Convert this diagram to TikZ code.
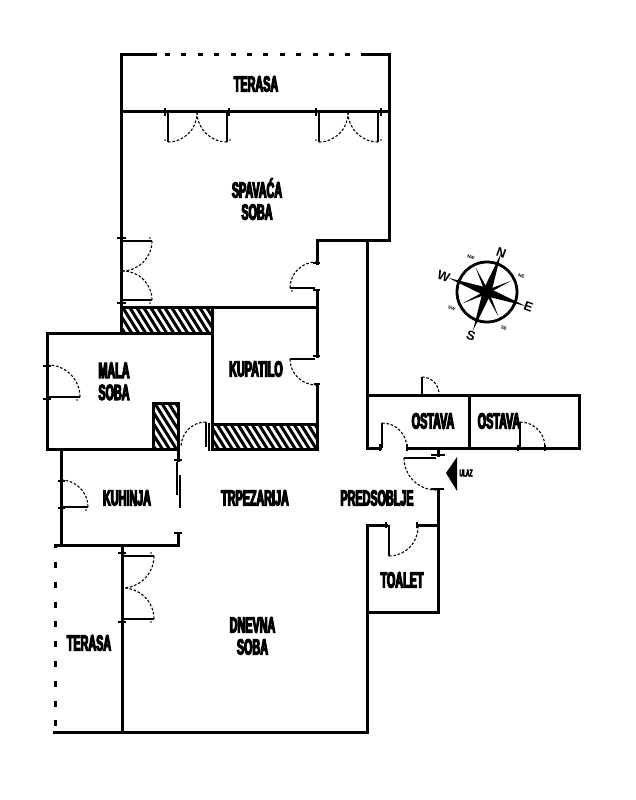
\documentclass[tikz,border=0pt]{standalone}
\usepackage{fontspec}
\newfontfamily\planfont[FakeStretch=0.49,BoldFeatures={FakeBold=5}]{Liberation Sans}
\newfontfamily\roosefont{Liberation Sans}

\def\terrace{(155,55) -- (121.5,55) -- (121.5,111.5) (362,55) -- (389,55) -- (389,240)}
\def\bedroom{(121.5,111.5) -- (389,111.5) (121.5,111.5) -- (121.5,333) (389,240) -- (317,240) -- (317,263) (317,290) -- (317,356) (317,384) -- (317,449) (121.5,307) -- (317,307)}
\def\smallroom{(212,307) -- (212,449) -- (317,449) (212,424) -- (317,424) (121.5,333) -- (47,333) -- (47,449) -- (178,449) -- (178,460) (212,333) -- (121.5,333) (153,449) -- (153,403) -- (178,403) -- (178,449)}
\def\kitchen{(61,449) -- (61,545) (55,545) -- (178,545) -- (178,533)}
\def\livingroom{(122,545) -- (122,732) (54,732) -- (367,732) -- (367,525) -- (386,525) (417,525) -- (438,525) (438,489) -- (438,612) -- (367,612)}
\def\storage{(367,240) -- (367,448) -- (380,448) (407,448) -- (579,448) -- (579,395.5) -- (367,395.5) (469,395.5) -- (469,448) (438,448) -- (438,455)}

\def\hatchbox#1#2#3#4{%
  \begin{scope}
    \clip (#1,#2) rectangle (#3,#4);
    \foreach \k in {-50,-43,...,320}
      \draw[line width=3] (\k,300) -- (\k+94,450);
  \end{scope}
  \draw[wall] (#1,#2) rectangle (#3,#4);}

\tikzset{
  wall/.style={line width=3, line cap=rect, line join=miter},
  leaf/.style={line width=1.2},
  swing/.style={line width=1.1, dash pattern=on 2.6 off 1.8},
  tick/.style={line width=1.3},
  room/.style={font=\planfont\bfseries\fontsize{22}{22}\selectfont, align=center, inner sep=0},
  bigletter/.style={font=\roosefont\bfseries\fontsize{13}{13}\selectfont, inner sep=0, rotate=-20},
  smallletter/.style={font=\roosefont\bfseries\fontsize{4.5}{4.5}\selectfont, inner sep=0, rotate=-20},
  openwall/.style={line width=3}
}

\begin{document}
\begin{tikzpicture}[x=1pt,y=-1pt]
  \useasboundingbox (0,0) rectangle (636,800);
  \fill[white] (0,0) rectangle (636,800);

  % hatched blocks
  \hatchbox{121.5}{307}{212}{333}
  \hatchbox{153}{403}{178}{449}
  \hatchbox{212}{424}{317}{449}

  % walls
  \draw[wall] \terrace;
  \draw[wall] \bedroom;
  \draw[wall] \smallroom;
  \draw[wall] \kitchen;
  \draw[wall] \livingroom;
  \draw[wall] \storage;

  % open sides of the terraces
  \foreach \x in {165,181.4,...,350}
    \draw[openwall] (\x,55) -- ++(5,0);
  \foreach \y in {562,581.8,...,725}
    \draw[openwall] (55,\y) -- ++(0,6);
  \draw[openwall] (55,545) -- (55,548);

  % door leaves
  \foreach \xa/\ya/\xb/\yb in {168/112/168/142, 227/112/227/142, 319/112/319/142, 378/112/378/142,
      122/241/152/241, 122/300/152/300, 290/288/315/288, 290/359/315/359, 47/397/80/397,
      61/507/88/507, 122/556/154/556, 122/619/154/619, 404/458/436/458, 382/423/382/448,
      422/377/422/395, 520/422/520/448, 389/525/389/556, 206/422/206/447, 209/423/209/451,
      177/462/177/495, 180/475/180/508}
    \draw[leaf] (\xa,\ya) -- (\xb,\yb);

  % door swings
  \foreach \xa/\ya/\a/\b/\r in {168/142/90/0/29, 227/142/90/180/30, 319/142/90/0/29, 378/142/90/180/30,
      152/241/0/90/30, 152/300/0/-90/29, 290/288/180/270/26, 290/359/180/90/26,
      80/397/0/-90/32, 88/507/0/-90/27, 154/556/0/90/32, 154/619/0/-90/31,
      404/458/180/90/32, 382/423/-90/0/25, 422/377/-90/0/17, 520/422/-90/0/25,
      389/556/90/0/29, 206/422/-90/-180/25}
    \draw[swing] (\xa,\ya) arc (\a:\b:\r);

  % jamb ticks
  \foreach \xa/\ya/\xb/\yb in {165/108/165/116, 229/108/229/116, 316/108/316/116, 381/108/381/116,
      117/238/126/238, 117/303/126/303, 313/263/320/263, 313/290/320/290, 313/356/320/356,
      314/384/320/384, 43/366/51/366, 43/399/51/399, 58/481/65/481, 58/508/65/508,
      118/553/126/553, 118/622/126/622, 380/444/380/451, 407/444/407/451, 518/445/518/451,
      545/445/545/451, 431/455/445/455, 431/489/444/489, 386/522/386/528, 417/522/417/528,
      174/460/182/460, 174/533/182/533}
    \draw[tick] (\xa,\ya) -- (\xb,\yb);

  % ticks at the free ends of the leaves
  \foreach \xa/\ya in {165/140, 230/140, 316/140, 381/140, 150/238, 150/303, 292/291, 77/400,
      86/510, 151/553, 151/622}
    \fill (\xa,\ya) circle (0.9);

  % entrance
  \fill (446,473) -- (457,457) -- (457,491) -- cycle;

  % labels
  \node[room] (terasaTop) at (256,84) {TERASA};
  \node[room] (spavaca) at (257,199) {SPAVAĆA\\SOBA};
  \node[room] (malaSoba) at (114,381.5) {MALA\\SOBA};
  \node[room] (kupatilo) at (256,369) {KUPATILO};
  \node[room] (ostavaA) at (433,421) {OSTAVA};
  \node[room] (ostavaB) at (499,421) {OSTAVA};
  \node[room] (kuhinja) at (127,498) {KUHINJA};
  \node[room] (trpezarija) at (255,498) {TRPEZARIJA};
  \node[room] (predsoblje) at (377,498) {PREDSOBLJE};
  \node[room] (toalet) at (402,580) {TOALET};
  \node[room] (dnevna) at (252.5,636) {DNEVNA\\SOBA};
  \node[room] (terasaLow) at (89,643) {TERASA};
  \node[room, font=\planfont\bfseries\fontsize{10}{10}\selectfont] (ulaz) at (466,473) {ULAZ};

  % compass
  \begin{scope}[shift={(487,292)}]
    \draw[line width=2.8] (0,0) circle (30);
    \foreach \a in {65,155,245,335}
      \fill (\a:27) -- (\a+45:2.5) -- (\a-45:2.5) -- cycle;
    \foreach \a in {20,110,200,290}
      \fill (\a:41) -- (\a+45:5.5) -- (\a-45:5.5) -- cycle;
    \fill (0,0) circle (5);
    \node[bigletter] (north) at (290:42) {N};
    \node[bigletter] (east) at (20:44) {E};
    \node[bigletter] (south) at (110:47) {S};
    \node[bigletter] (west) at (200:46) {W};
    \node[smallletter] (northEast) at (335:38) {NE};
    \node[smallletter] (southEast) at (65:40) {SE};
    \node[smallletter] (southWest) at (155:39) {SW};
    \node[smallletter] (northWest) at (245:38) {NW};
  \end{scope}
\end{tikzpicture}
\end{document}
